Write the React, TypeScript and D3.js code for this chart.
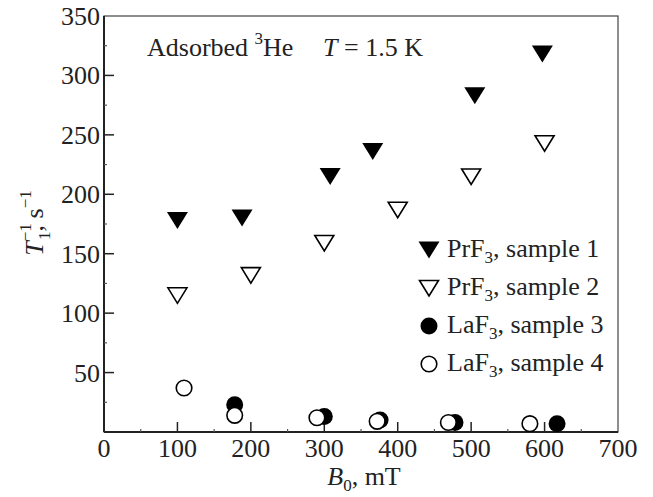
import * as d3 from "d3";

// PrF3, sample 1 (filled down triangles)
const s1B = [100, 188, 308, 366, 505, 597];
const s1R = [178, 180, 215, 236, 283, 318];
// PrF3, sample 2 (open down triangles)
const s2B = [100, 200, 300, 400, 500, 600];
const s2R = [115, 132, 159, 187, 215, 243];
// LaF3, sample 3 (filled circles)
const s3B = [178, 300, 376, 478, 617];
const s3R = [23, 13, 10, 8, 7];
// LaF3, sample 4 (open circles)
const s4B = [109, 178, 290, 372, 469, 580];
const s4R = [37, 14, 12, 9, 8, 7];

const xTicks = [0, 100, 200, 300, 400, 500, 600, 700];
const yTicks = [50, 100, 150, 200, 250, 300, 350];

const W = 653;
const H = 497;
const m = { left: 104, top: 16, right: 35, bottom: 65 };
const FONT = "'Liberation Serif', 'Times New Roman', serif";
const FS = 26;
const SS = 17;

const triPath = "M-10.5,-8.5L10.5,-8.5L0,8.5Z";

const Marker = ({ kind, x, y }) => {
  if (kind === "tri-filled") return <path d={triPath} transform={`translate(${x},${y})`} fill="#000" />;
  if (kind === "tri-open")
    return <path d="M-9.5,-7.5L9.5,-7.5L0,8Z" transform={`translate(${x},${y})`} fill="#fff" stroke="#000" strokeWidth={1.6} />;
  if (kind === "circ-filled") return <circle cx={x} cy={y} r={8.5} fill="#000" />;
  return <circle cx={x} cy={y} r={7.8} fill="#fff" stroke="#000" strokeWidth={1.6} />;
};

export default function App() {
  const x = d3.scaleLinear().domain([0, 700]).range([m.left, W - m.right]);
  const y = d3.scaleLinear().domain([0, 350]).range([H - m.bottom, m.top]);
  const x0 = x(0), x1 = x(700), y0 = y(0), y1 = y(350);

  const series = [
    { b: s3B, r: s3R, kind: "circ-filled" },
    { b: s4B, r: s4R, kind: "circ-open" },
    { b: s1B, r: s1R, kind: "tri-filled" },
    { b: s2B, r: s2R, kind: "tri-open" },
  ];

  const legend = [
    { kind: "tri-filled", name: "PrF", sub: "3", rest: ", sample 1" },
    { kind: "tri-open", name: "PrF", sub: "3", rest: ", sample 2" },
    { kind: "circ-filled", name: "LaF", sub: "3", rest: ", sample 3" },
    { kind: "circ-open", name: "LaF", sub: "3", rest: ", sample 4" },
  ];

  const xMinor = d3.range(50, 700, 100);
  const yMinor = d3.range(25, 350, 50);

  return (
    <svg width={W} height={H} style={{ position: "absolute", left: 0, top: 0 }} fontFamily={FONT} fill="#222">
      <rect width={W} height={H} fill="#fff" />
      {/* frame */}
      <rect x={x0} y={y1} width={x1 - x0} height={y0 - y1} fill="none" stroke="#444" strokeWidth={1.2} />
      <line x1={x0} x2={x0} y1={y1} y2={y0} stroke="#222" strokeWidth={2} />
      <line x1={x0} x2={x1} y1={y0} y2={y0} stroke="#222" strokeWidth={2} />
      {/* ticks */}
      {xTicks.slice(1, -1).map((t) => (
        <line key={"xt" + t} x1={x(t)} x2={x(t)} y1={y0} y2={y0 - 10} stroke="#222" strokeWidth={1.5} />
      ))}
      {xMinor.map((t) => (
        <line key={"xm" + t} x1={x(t)} x2={x(t)} y1={y0} y2={y0 - 3} stroke="#555" strokeWidth={1.2} />
      ))}
      {yTicks.slice(0, -1).map((t) => (
        <line key={"yt" + t} x1={x0} x2={x0 + 10} y1={y(t)} y2={y(t)} stroke="#222" strokeWidth={1.5} />
      ))}
      {yMinor.map((t) => (
        <line key={"ym" + t} x1={x0} x2={x0 + 3} y1={y(t)} y2={y(t)} stroke="#555" strokeWidth={1.2} />
      ))}
      {/* tick labels */}
      {xTicks.map((t) => (
        <text key={"xl" + t} x={x(t)} y={y0 + 25} fontSize={FS} textAnchor="middle">
          {t}
        </text>
      ))}
      {yTicks.map((t) => (
        <text key={"yl" + t} x={x0 - 4} y={y(t) + 9} fontSize={FS} textAnchor="end">
          {t}
        </text>
      ))}
      {/* axis titles */}
      <text x={364} y={485} fontSize={FS} textAnchor="middle">
        <tspan fontStyle="italic">B</tspan>
        <tspan fontSize={SS} dy={6}>0</tspan>
        <tspan dy={-6}>, mT</tspan>
      </text>
      <text transform="translate(43,223) rotate(-90)" fontSize={FS} textAnchor="middle">
        <tspan fontStyle="italic">T</tspan>
        <tspan fontSize={SS} dy={-12}>−1</tspan>
        <tspan fontSize={SS} dx={-16} dy={19}>1</tspan>
        <tspan dy={-7}>, s</tspan>
        <tspan fontSize={SS} dy={-12}>−1</tspan>
      </text>
      {/* annotation */}
      <text x={147} y={56} fontSize={FS}>
        Adsorbed <tspan fontSize={SS} dy={-12}>3</tspan>
        <tspan dy={12}>He</tspan>
      </text>
      <text x={323} y={56} fontSize={FS}>
        <tspan fontStyle="italic">T</tspan> = 1.5 K
      </text>
      {/* data */}
      {series.map((s) =>
        s.b.map((b, i) => <Marker key={s.kind + i} kind={s.kind} x={x(b)} y={y(s.r[i])} />)
      )}
      {/* legend */}
      {legend.map((l, i) => (
        <g key={l.kind}>
          <Marker kind={l.kind} x={429} y={250 + i * 38} />
          <text x={447} y={257 + i * 38} fontSize={FS}>
            {l.name}
            <tspan fontSize={SS} dy={6}>{l.sub}</tspan>
            <tspan dy={-6}>{l.rest}</tspan>
          </text>
        </g>
      ))}
    </svg>
  );
}
